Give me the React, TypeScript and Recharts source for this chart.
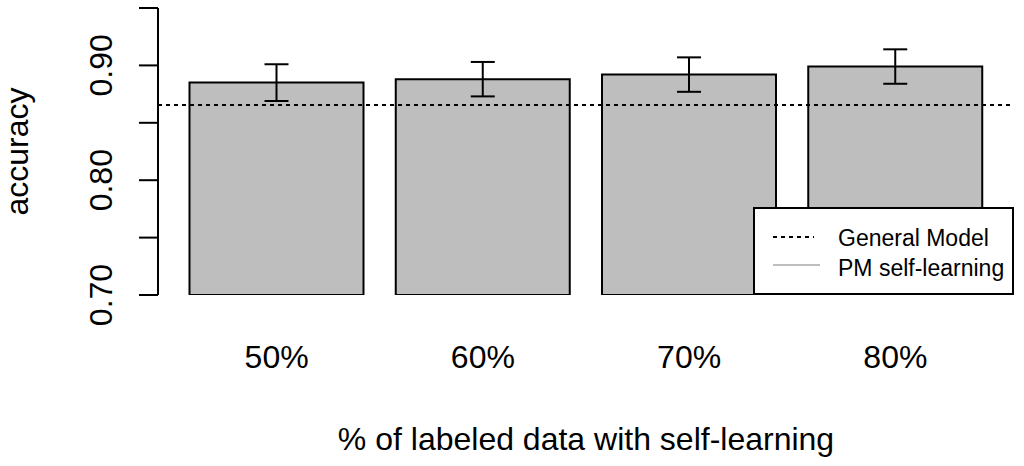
import React from "react";
import {
  ComposedChart,
  Bar,
  XAxis,
  YAxis,
  ErrorBar,
  ReferenceLine,
} from "recharts";

const categories = ["50%", "60%", "70%", "80%"];
const accuracy = [0.885, 0.888, 0.892, 0.899];
const errors = [0.016, 0.015, 0.015, 0.015];
const generalModel = 0.8655;
const yTicks = [0.7, 0.75, 0.8, 0.85, 0.9, 0.95];
const yLabelled = ["0.70", "0.80", "0.90"];
const legendLabels = ["General Model", "PM self-learning"];

const BAR_GREY = "#bebebe";
const FONT = "'Liberation Sans', Arial, sans-serif";

const data = categories.map((c, i) => ({
  name: c,
  acc: accuracy[i],
  err: errors[i],
}));

function YTick(props: any) {
  const { x, y, payload } = props;
  const label = Number(payload.value).toFixed(2);
  if (!yLabelled.includes(label)) return <g />;
  const tx = x - 27;
  return (
    <text
      x={tx}
      y={y}
      transform={`rotate(-90, ${tx}, ${y})`}
      textAnchor="middle"
      fontSize={32}
      fill="#000"
      fontFamily={FONT}
    >
      {label}
    </text>
  );
}

function XTick(props: any) {
  const { x, y, payload } = props;
  return (
    <text
      x={x}
      y={y + 73}
      textAnchor="middle"
      fontSize={32}
      fill="#000"
      fontFamily={FONT}
    >
      {payload.value}
    </text>
  );
}

function YTitle(props: any) {
  const vb = props.viewBox || {};
  const cx = 28;
  const cy = vb.y + vb.height / 2;
  return (
    <text
      x={cx}
      y={cy}
      transform={`rotate(-90, ${cx}, ${cy})`}
      textAnchor="middle"
      fontSize={32}
      fill="#000"
      fontFamily={FONT}
    >
      accuracy
    </text>
  );
}

function XTitle(props: any) {
  const vb = props.viewBox || {};
  return (
    <text
      x={vb.x + vb.width / 2}
      y={450}
      textAnchor="middle"
      fontSize={32}
      fill="#000"
      fontFamily={FONT}
    >
      % of labeled data with self-learning
    </text>
  );
}

function LegendBox() {
  const styles = [
    { stroke: "#000", dash: "4 4", x2: 59 },
    { stroke: BAR_GREY, dash: undefined, x2: 65 },
  ];
  return (
    <div
      style={{
        position: "absolute",
        left: 753,
        top: 207,
        width: 261,
        height: 88,
        border: "2px solid #000",
        boxSizing: "border-box",
        background: "#fff",
      }}
    >
      <svg width={257} height={84} style={{ display: "block" }}>
        {legendLabels.map((lab, i) => (
          <g key={lab}>
            <line
              x1={18}
              x2={styles[i].x2}
              y1={28 + i * 28}
              y2={28 + i * 28}
              stroke={styles[i].stroke}
              strokeWidth={2}
              strokeDasharray={styles[i].dash}
            />
            <text
              x={83}
              y={37 + i * 30}
              fontSize={23}
              fill="#000"
              fontFamily={FONT}
            >
              {lab}
            </text>
          </g>
        ))}
      </svg>
    </div>
  );
}

export default function App() {
  return (
    <div
      style={{
        position: "absolute",
        left: 0,
        top: 0,
        width: 1024,
        height: 466,
        background: "#fff",
        fontFamily: FONT,
      }}
    >
      <ComposedChart
        width={1024}
        height={466}
        data={data}
        margin={{ top: 8, right: 10, bottom: 0, left: 0 }}
        barCategoryGap={16}
      >
        <XAxis
          dataKey="name"
          height={171}
          axisLine={false}
          tickLine={false}
          tickSize={0}
          tickMargin={0}
          padding={{ left: 15.5, right: 15.5 }}
          tick={<XTick />}
          interval={0}
          label={<XTitle />}
        />
        <YAxis
          type="number"
          domain={[0.7, 0.95]}
          ticks={yTicks}
          allowDataOverflow
          interval={0}
          width={158}
          tickSize={19}
          tickMargin={0}
          axisLine={{ stroke: "#000", strokeWidth: 2 }}
          tickLine={{ stroke: "#000", strokeWidth: 2 }}
          tick={<YTick />}
          label={<YTitle />}
        />
        <Bar
          dataKey="acc"
          fill={BAR_GREY}
          stroke="#000"
          strokeWidth={2}
          isAnimationActive={false}
        >
          <ErrorBar
            dataKey="err"
            width={12}
            stroke="#000"
            strokeWidth={2}
            isAnimationActive={false}
          />
        </Bar>
        <ReferenceLine
          y={generalModel}
          stroke="#000"
          strokeWidth={2}
          strokeDasharray="4 4"
        />
      </ComposedChart>
      <LegendBox />
    </div>
  );
}
